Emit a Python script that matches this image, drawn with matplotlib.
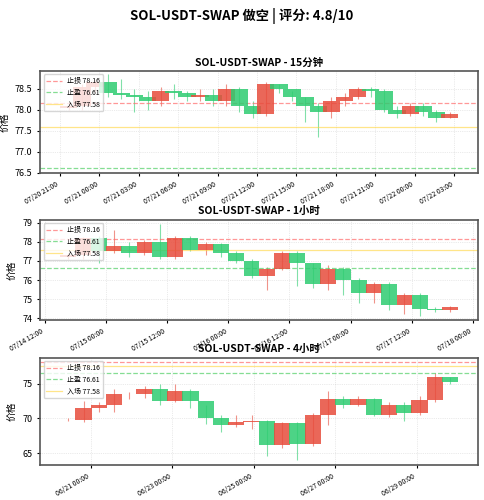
import matplotlib
matplotlib.use("Agg")
import matplotlib.pyplot as plt
import matplotlib.dates as mdates
import pandas as pd
import numpy as np

plt.rcParams['font.family'] = ['Noto Sans CJK SC', 'DejaVu Sans']

SL, TP, ENTRY = 78.16, 76.61, 77.58

# 15m panel (hourly sampled)
t15_start = "2025-07-20 21:00"
o15 = [78.05,78.10,78.55,78.65,78.40,78.35,78.30,78.20,78.45,78.40,78.30,78.35,78.20,78.50,78.10,77.90,78.60,78.50,78.30,78.10,77.95,78.20,78.30,78.50,78.45,78.00,77.90,78.10,77.95,77.80]
c15 = [78.10,78.55,78.65,78.40,78.35,78.30,78.20,78.45,78.40,78.30,78.35,78.20,78.50,78.10,77.90,78.60,78.50,78.30,78.10,77.95,78.20,78.30,78.50,78.45,78.00,77.90,78.10,77.95,77.80,77.90]
h15 = [78.15,78.60,78.70,78.85,78.72,78.50,78.45,78.55,78.60,78.45,78.50,78.50,78.60,78.55,78.20,78.65,78.60,78.45,78.30,78.15,78.30,78.40,78.55,78.55,78.50,78.10,78.15,78.15,78.00,77.95]
l15 = [78.00,78.00,78.40,78.30,78.25,77.95,78.00,78.10,78.25,78.20,78.20,78.10,78.10,77.95,77.80,77.85,78.40,78.20,77.70,77.35,77.80,78.10,78.25,78.30,77.95,77.80,77.85,77.85,77.70,77.80]

# 1h panel (3-hour sampled)
t1_start = "2025-07-14 15:00"
o1 = [77.20,77.30,78.20,77.50,77.80,77.40,78.00,77.20,78.20,77.60,77.90,77.40,77.00,76.20,76.60,77.40,76.90,75.80,76.60,76.00,75.30,75.80,74.70,75.20,74.50,74.40]
c1 = [77.30,78.20,77.50,77.80,77.40,78.00,77.20,78.20,77.60,77.90,77.40,77.00,76.20,76.60,77.40,76.90,75.80,76.60,76.00,75.30,75.80,74.70,75.20,74.50,74.40,74.60]
h1 = [77.40,78.25,78.30,78.60,78.00,78.10,78.95,78.30,78.30,78.00,77.95,77.50,77.10,76.70,77.50,77.50,76.90,76.80,76.70,76.10,75.90,75.90,75.30,75.30,74.60,74.65]
l1 = [77.10,77.10,76.90,77.40,77.20,77.30,77.10,77.10,77.50,77.30,77.20,76.90,76.10,75.50,76.50,75.70,75.60,75.50,75.20,74.80,74.80,74.40,74.20,74.10,74.30,74.30]

# 4h panel (9-hour sampled)
t4_start = "2025-06-20 06:00"
o4 = [69.8,69.8,71.5,72.0,73.5,73.5,74.3,72.5,74.0,72.5,70.0,69.0,69.5,69.7,66.2,69.3,66.3,70.5,72.8,72.0,72.8,70.5,72.0,70.8,72.7,75.9]
c4 = [69.8,71.5,72.0,73.5,73.5,74.3,72.5,74.0,72.5,70.0,69.0,69.5,69.7,66.2,69.3,66.3,70.5,72.8,72.0,72.8,70.5,72.0,70.8,72.7,75.9,75.2]
h4 = [70.0,72.5,72.3,74.2,73.8,74.6,75.0,75.0,74.2,72.0,70.5,70.5,70.5,69.8,69.5,69.5,70.8,74.0,73.2,73.2,72.9,72.3,72.4,73.3,76.5,75.9]
l4 = [69.6,69.5,71.0,71.0,72.8,73.0,72.0,72.3,71.5,69.2,68.0,68.8,68.5,64.6,65.8,64.0,66.0,69.0,71.5,71.8,70.3,70.2,69.6,70.5,72.3,75.0]

UP, DOWN = '#e74c3c', '#2ecc71'

fig = plt.figure(figsize=(4.84, 5.0), dpi=100)
fig.suptitle("SOL-USDT-SWAP 做空 | 评分: 4.8/10", fontsize=9.5, fontweight='bold', y=0.985)

specs = [
    ("SOL-USDT-SWAP - 15分钟", t15_start, "1h", o15, c15, h15, l15, 0.055, (76.5, 78.92), [76.5,77.0,77.5,78.0,78.5], 3,
     [0.083, 0.654, 0.905, 0.204]),
    ("SOL-USDT-SWAP - 1小时", t1_start, "3h", o1, c1, h1, l1, 0.13, (73.9, 79.15), [74,75,76,77,78,79], 12,
     [0.083, 0.36, 0.905, 0.2]),
    ("SOL-USDT-SWAP - 4小时", t4_start, "9h", o4, c4, h4, l4, 0.4, (63.3, 78.7), [65,70,75], 48,
     [0.083, 0.07, 0.905, 0.214]),
]

for title, start, freq, o, c, h, l, w, ylim, yt, hrs, pos in specs:
    ax = fig.add_axes(pos)
    t = pd.date_range(start, periods=len(o), freq=freq)
    x = mdates.date2num(t)
    o, c, h, l = map(np.array, (o, c, h, l))
    cols = [UP if ci >= oi else DOWN for oi, ci in zip(o, c)]
    ax.vlines(x + w / 2, l, h, colors=cols, linewidth=0.8, alpha=0.6, zorder=2)
    ax.bar(x, np.maximum(np.abs(c - o), 0.03), bottom=np.minimum(o, c), width=w,
           color=cols, alpha=0.85, align='edge', zorder=3)
    ax.axhline(SL, color='#ff6b6b', ls='--', lw=0.9, alpha=0.7, label=f'止损 {SL}')
    ax.axhline(TP, color='#51cf66', ls='--', lw=0.9, alpha=0.7, label=f'止盈 {TP}')
    ax.axhline(ENTRY, color='#ffd43b', ls='-', lw=0.9, alpha=0.6, label=f'入场 {ENTRY}')
    ax.set_ylim(*ylim)
    ax.set_yticks(yt)
    ax.set_title(title, fontsize=7.5, fontweight='bold', pad=4)
    ax.set_ylabel("价格", fontsize=7)
    ax.tick_params(axis='y', labelsize=6.5, length=2)
    ax.tick_params(axis='x', labelsize=5, length=2)
    ax.xaxis.set_major_locator(mdates.HourLocator(byhour=range(0, 24, hrs)) if hrs < 24 else mdates.DayLocator(bymonthday=[21,23,25,27,29]))
    ax.xaxis.set_major_formatter(mdates.DateFormatter('%m/%d %H:%M'))
    for lb in ax.get_xticklabels():
        lb.set_rotation(30); lb.set_ha('right')
    ax.grid(True, ls=':', lw=0.5, alpha=0.5)
    for s in ax.spines.values():
        s.set_color('#555555'); s.set_linewidth(1.2)
    ax.legend(loc='upper left', fontsize=5, framealpha=0.8, handlelength=2.2, borderpad=0.4)
    ax.margins(x=0.05)

fig.savefig("out.png", dpi=100)
